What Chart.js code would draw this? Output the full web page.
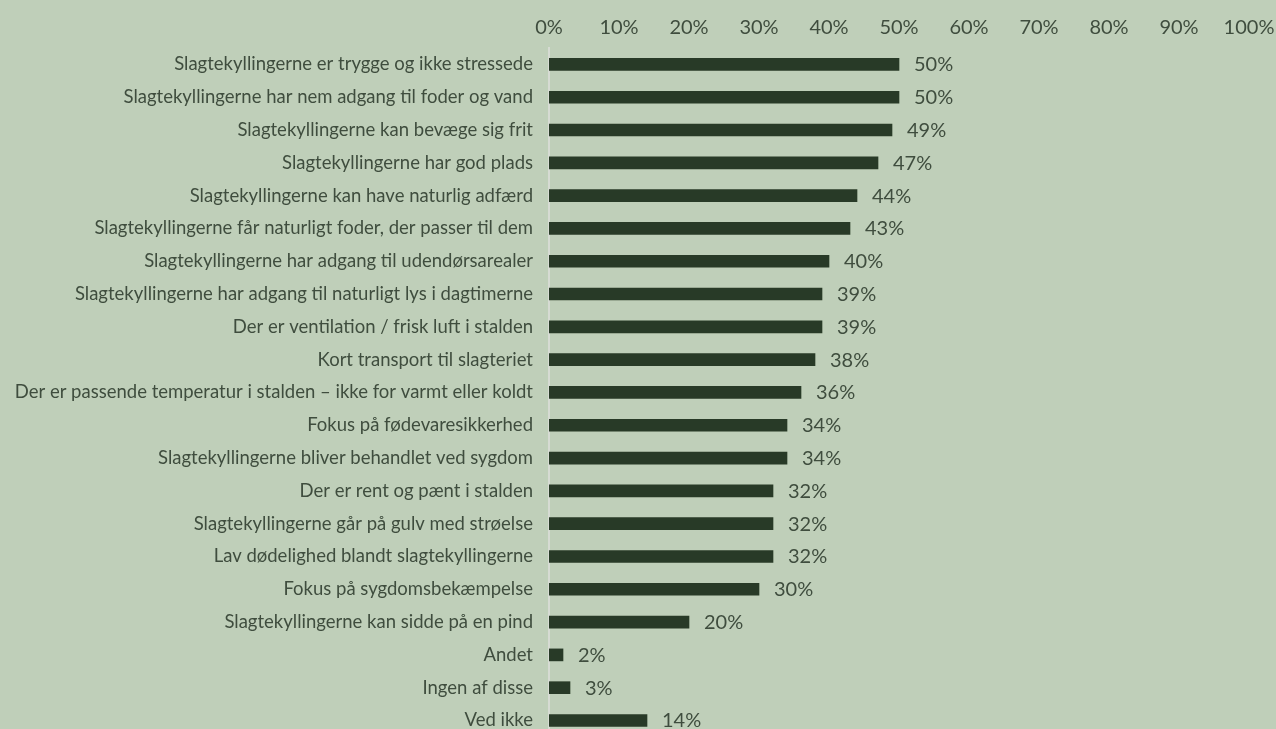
<!DOCTYPE html>
<html>
<head>
<meta charset="utf-8">
<script src="https://cdn.jsdelivr.net/npm/chart.js@4/dist/chart.umd.min.js"></script>
<style>
  html, body { margin: 0; padding: 0; background: #bfcfb9; overflow: hidden; }
  #wrap { width: 1276px; height: 764px; position: relative; }
</style>
</head>
<body>
<div id="wrap"><canvas id="chart"></canvas></div>
<script>
const categories = [
  "Slagtekyllingerne er trygge og ikke stressede",
  "Slagtekyllingerne har nem adgang til foder og vand",
  "Slagtekyllingerne kan bevæge sig frit",
  "Slagtekyllingerne har god plads",
  "Slagtekyllingerne kan have naturlig adfærd",
  "Slagtekyllingerne får naturligt foder, der passer til dem",
  "Slagtekyllingerne har adgang til udendørsarealer",
  "Slagtekyllingerne har adgang til naturligt lys i dagtimerne",
  "Der er ventilation / frisk luft i stalden",
  "Kort transport til slagteriet",
  "Der er passende temperatur i stalden – ikke for varmt eller koldt",
  "Fokus på fødevaresikkerhed",
  "Slagtekyllingerne bliver behandlet ved sygdom",
  "Der er rent og pænt i stalden",
  "Slagtekyllingerne går på gulv med strøelse",
  "Lav dødelighed blandt slagtekyllingerne",
  "Fokus på sygdomsbekæmpelse",
  "Slagtekyllingerne kan sidde på en pind",
  "Andet",
  "Ingen af disse",
  "Ved ikke"
];
const values = [50, 50, 49, 47, 44, 43, 40, 39, 39, 38, 36, 34, 34, 32, 32, 32, 30, 20, 2, 3, 14];
const xTicks = [0, 10, 20, 30, 40, 50, 60, 70, 80, 90, 100];

const textColor = "#3f4d3e";
const barColor = "#283a27";
const fontFamily = "Lato, 'Open Sans', sans-serif";

// value labels right of each bar
const valueLabels = {
  id: "valueLabels",
  afterDatasetsDraw(chart) {
    const ctx = chart.ctx;
    const meta = chart.getDatasetMeta(0);
    ctx.save();
    ctx.fillStyle = textColor;
    ctx.font = "20px " + fontFamily;
    ctx.textBaseline = "middle";
    ctx.textAlign = "left";
    meta.data.forEach((bar, i) => {
      ctx.fillText(values[i] + "%", bar.x + 15, bar.y + 0.5);
    });
    ctx.restore();
  }
};

new Chart(document.getElementById("chart"), {
  type: "bar",
  data: {
    labels: categories,
    datasets: [{
      data: values,
      backgroundColor: barColor,
      barThickness: 12
    }]
  },
  options: {
    indexAxis: "y",
    responsive: true,
    maintainAspectRatio: false,
    animation: false,
    layout: { padding: { top: 8, right: 27, left: 0, bottom: 0 } },
    plugins: {
      legend: { display: false },
      tooltip: { enabled: false }
    },
    scales: {
      x: {
        position: "top",
        min: 0,
        max: 100,
        afterBuildTicks: (axis) => { axis.ticks = xTicks.map((v) => ({ value: v })); },
        afterFit: (axis) => { axis.paddingLeft = 0; axis.paddingRight = 0; },
        grid: { display: false, drawTicks: false },
        border: { display: false },
        ticks: {
          color: textColor,
          font: { family: fontFamily, size: 20 },
          padding: 8,
          maxRotation: 0,
          callback: (v) => v + "%"
        }
      },
      y: {
        afterFit: (axis) => { axis.width = 549; },
        grid: { display: false, drawTicks: false },
        border: { display: true, color: "#d6dbd3", width: 2 },
        ticks: {
          color: textColor,
          font: { family: fontFamily, size: 18.5 },
          padding: 16,
          autoSkip: false
        }
      }
    }
  },
  plugins: [valueLabels]
});
</script>
</body>
</html>
